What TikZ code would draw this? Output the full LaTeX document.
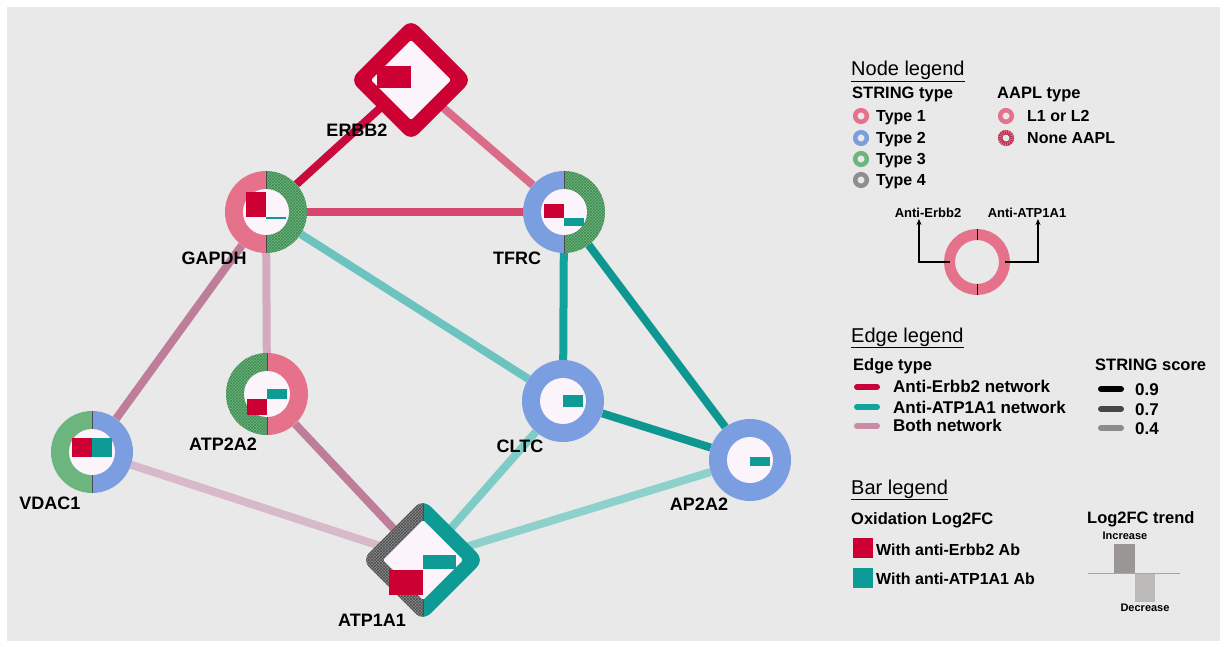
\documentclass[tikz,border=0pt]{standalone}
\usepackage{fontspec}
\setmainfont{Liberation Sans}
\usetikzlibrary{shapes.geometric,patterns,arrows.meta}
\definecolor{bgc}{HTML}{E9E9E9}
\definecolor{inc}{HTML}{FBF4FA}
\definecolor{tpink}{HTML}{E6718B}
\definecolor{tblue}{HTML}{7B9EE0}
\definecolor{tgreen}{HTML}{6DB57E}
\definecolor{tgreenD}{HTML}{3F8A52}
\definecolor{tgray}{HTML}{8E8E8E}
\definecolor{tgrayD}{HTML}{4A4A4A}
\definecolor{tpinkD}{HTML}{B03050}
\definecolor{crim}{HTML}{CC0033}
\definecolor{tealc}{HTML}{0E9A95}
\definecolor{eA}{HTML}{C80A3C}
\definecolor{eB}{HTML}{DA6C8A}
\definecolor{eC}{HTML}{D5456D}
\definecolor{eD}{HTML}{D4AABE}
\definecolor{eE}{HTML}{BE7D99}
\definecolor{eF}{HTML}{D8B9C9}
\definecolor{eG}{HTML}{6DC3BF}
\definecolor{eH}{HTML}{13A19B}
\definecolor{eI}{HTML}{0E9690}
\definecolor{eJ}{HTML}{7ECCC7}
\definecolor{eK}{HTML}{8ED1CC}
\definecolor{lgRed}{HTML}{C8003A}
\definecolor{lgTeal}{HTML}{11A39C}
\definecolor{lgMauve}{HTML}{C98BA6}
\definecolor{barDark}{HTML}{9B9696}
\definecolor{barLight}{HTML}{BDBABA}
\tikzset{
  lbl/.style={font=\fontsize{18pt}{20pt}\selectfont\bfseries, inner sep=0pt},
  hd/.style={font=\fontsize{20pt}{22pt}\selectfont, inner sep=0pt, anchor=base west},
  sub/.style={font=\fontsize{16.5pt}{18pt}\selectfont\bfseries, inner sep=0pt, anchor=base west},
  item/.style={font=\fontsize{16pt}{18pt}\selectfont\bfseries, inner sep=0pt, anchor=base west},
  eitem/.style={font=\fontsize{17pt}{19pt}\selectfont\bfseries, inner sep=0pt, anchor=base west},
  small/.style={font=\fontsize{13pt}{15pt}\selectfont\bfseries, inner sep=0pt},
  tiny/.style={font=\fontsize{11pt}{13pt}\selectfont\bfseries, inner sep=0pt},
  hub/.style={circle, minimum size=82pt, inner sep=0pt},
  dmd/.style={diamond, minimum size=114pt, inner sep=0pt},
  link/.style={line width=8pt},
  divider/.style={line width=0.8pt, black!70},
  ty1/.style={fill=tpink},
  ty2/.style={fill=tblue},
  ty3/.style={fill=tgreen},
  ty3n/.style={fill=tgreen, postaction={pattern=crosshatch, pattern color=tgreenD}},
  ty4n/.style={fill=tgray, postaction={pattern=crosshatch, pattern color=tgrayD}},
  barE/.style={fill=crim},
  barA/.style={fill=tealc},
  swatch/.style={line width=6pt, line cap=round},
}
\newcommand{\hubring}[3]{%
  \begin{scope}[shift={(#1.center)}]
    \begin{scope}\clip (-45,-45) rectangle (0,45); \fill[#2] (0,0) circle[radius=41]; \end{scope}
    \begin{scope}\clip (0,-45) rectangle (45,45); \fill[#3] (0,0) circle[radius=41]; \end{scope}
    \draw[divider] (0,-41) -- (0,41);
    \fill[inc] (0,0) circle[radius=23];
  \end{scope}}
\begin{document}
\begin{tikzpicture}[x=1pt,y=-1pt]
\useasboundingbox (0,0) rectangle (1226,647);
\fill[white] (0,0) rectangle (1226,647);
\fill[bgc] (7,7) rectangle (1220,641);

% node placeholders
\node[hub] (GAPDH) at (266,212) {};
\node[hub] (TFRC) at (564,212) {};
\node[hub] (ATP2A2) at (267,394) {};
\node[hub] (VDAC1) at (92,452) {};
\node[hub] (CLTC) at (563,401) {};
\node[hub] (AP2A2) at (750,460) {};
\node[dmd] (ERBB2) at (411,80) {};
\node[dmd] (ATP1A1) at (423,560) {};

% edges
\draw[link, eA] (ERBB2) -- (GAPDH);
\draw[link, eB] (ERBB2) -- (TFRC);
\draw[link, eC] (GAPDH) -- (TFRC);
\draw[link, eD] (GAPDH) -- (ATP2A2);
\draw[link, eE] (GAPDH) -- (VDAC1);
\draw[link, eG] (GAPDH) -- (CLTC);
\draw[link, eH] (TFRC) -- (CLTC);
\draw[link, eI] (TFRC) -- (AP2A2);
\draw[link, eI] (CLTC) -- (AP2A2);
\draw[link, eJ] (CLTC) -- (ATP1A1);
\draw[link, eK] (AP2A2) -- (ATP1A1);
\draw[link, eE] (ATP2A2) -- (ATP1A1);
\draw[link, eF] (VDAC1) -- (ATP1A1);

% circle nodes
\hubring{GAPDH}{ty1}{ty3n}
\begin{scope}[shift={(GAPDH.center)}]
  \fill[barE] (-20,-20) rectangle (0,5);
  \fill[barA] (0,5) rectangle (20,7);
\end{scope}
\hubring{TFRC}{ty2}{ty3n}
\begin{scope}[shift={(TFRC.center)}]
  \fill[barE] (-20,-8) rectangle (0,6);
  \fill[barA] (0,6) rectangle (20,14);
\end{scope}
\hubring{ATP2A2}{ty3n}{ty1}
\begin{scope}[shift={(ATP2A2.center)}]
  \fill[barE] (-20,5) rectangle (0,21);
  \fill[barA] (0,-5) rectangle (20,5);
\end{scope}
\hubring{VDAC1}{ty3}{ty2}
\begin{scope}[shift={(VDAC1.center)}]
  \fill[barE] (-20,-14) rectangle (0,5);
  \fill[barA] (0,-14) rectangle (20,5);
\end{scope}
\begin{scope}[shift={(CLTC.center)}]
  \fill[tblue] (0,0) circle[radius=41];
  \fill[inc] (0,0) circle[radius=23];
  \fill[barA] (0,-6) rectangle (20,6);
\end{scope}
\begin{scope}[shift={(AP2A2.center)}]
  \fill[tblue] (0,0) circle[radius=41];
  \fill[inc] (0,0) circle[radius=23];
  \fill[barA] (0,-3) rectangle (20,6);
\end{scope}

% diamonds
\begin{scope}[shift={(ERBB2.center)}]
  \fill[crim, rounded corners=10pt] (0,-61) -- (61,0) -- (0,61) -- (-61,0) -- cycle;
  \fill[inc, rounded corners=2pt] (0,-40) -- (40,0) -- (0,40) -- (-40,0) -- cycle;
  \fill[barE] (-34,-14) rectangle (0,8);
\end{scope}
\begin{scope}[shift={(ATP1A1.center)}]
  \begin{scope}\clip (-65,-65) rectangle (0,65);
    \fill[ty4n, rounded corners=10pt] (0,-61) -- (61,0) -- (0,61) -- (-61,0) -- cycle;
  \end{scope}
  \begin{scope}\clip (0,-65) rectangle (65,65);
    \fill[tealc, rounded corners=10pt] (0,-61) -- (61,0) -- (0,61) -- (-61,0) -- cycle;
  \end{scope}
  \draw[divider] (0,-56) -- (0,56);
  \fill[inc, rounded corners=2pt] (0,-40) -- (40,0) -- (0,40) -- (-40,0) -- cycle;
  \fill[barE] (-34,10) rectangle (0,35);
  \fill[barA] (0,-5) rectangle (33,9);
\end{scope}

% node labels
\node[lbl] (lERBB2) at (357,130) {ERBB2};
\node[lbl] (lGAPDH) at (214,258) {GAPDH};
\node[lbl] (lTFRC) at (517,258) {TFRC};
\node[lbl] (lATP2A2) at (223,444) {ATP2A2};
\node[lbl] (lVDAC1) at (50,503) {VDAC1};
\node[lbl] (lCLTC) at (520,446) {CLTC};
\node[lbl] (lAP2A2) at (699,504) {AP2A2};
\node[lbl] (lATP1A1) at (372,620) {ATP1A1};

% ---------- Node legend ----------
\node[hd] (hNode) at (851,76) {\underline{Node legend}};
\node[sub] (hString) at (852,99) {STRING type};
\node[sub] (hAapl) at (997,99) {AAPL type};
\draw[tpink, line width=4.5pt] (861,116) circle[radius=5.8];
\draw[tblue, line width=4.5pt] (861,138) circle[radius=5.8];
\draw[tgreen, line width=4.5pt] (861,159) circle[radius=5.8];
\draw[tgray, line width=4.5pt] (861,180) circle[radius=5.8];
\node[item] (t1) at (876,122) {Type 1};
\node[item] (t2) at (876,144) {Type 2};
\node[item] (t3) at (876,165) {Type 3};
\node[item] (t4) at (876,186) {Type 4};
\draw[tpink, line width=4.5pt] (1006,116) circle[radius=5.8];
\draw[tpink, line width=4.5pt, postaction={draw=tpinkD, line width=4.5pt, dash pattern=on 1pt off 1pt}] (1006,138) circle[radius=5.8];
\node[item] (aL) at (1027,122) {L1 or L2};
\node[item] (aN) at (1027,144) {None AAPL};

\node[circle, minimum size=66pt, inner sep=0pt] (legring) at (977,262) {};
\draw[tpink, line width=11pt] (legring.center) circle[radius=27.5];
\draw[black, line width=0.9pt] (977,229) -- (977,240);
\draw[black, line width=0.9pt] (977,284) -- (977,295);
\node[small] (lAE) at (928,213) {Anti-Erbb2};
\node[small] (lAA) at (1027,213) {Anti-ATP1A1};
\coordinate (tipE) at (919,219);
\coordinate (tipA) at (1038,219);
\coordinate (startE) at (950,262);
\coordinate (startA) at (1005,262);
\draw[line width=1.4pt, -{Stealth[length=6pt,width=5pt]}] (startE) -| (tipE);
\draw[line width=1.4pt, -{Stealth[length=6pt,width=5pt]}] (startA) -| (tipA);

% ---------- Edge legend ----------
\node[hd] (hEdge) at (851,342) {\underline{Edge legend}};
\node[sub] (hEtype) at (853,370) {Edge type};
\node[sub] (hScore) at (1095,370) {STRING score};
\draw[swatch, lgRed] (857,387) -- (877,387);
\draw[swatch, lgTeal] (857,407) -- (877,407);
\draw[swatch, lgMauve] (857,426) -- (877,426);
\node[eitem] (e1) at (893,392) {Anti-Erbb2 network};
\node[eitem] (e2) at (893,413) {Anti-ATP1A1 network};
\node[eitem] (e3) at (893,431) {Both network};
\draw[swatch, black] (1101,389) -- (1121,389);
\draw[swatch, black!72] (1101,409) -- (1121,409);
\draw[swatch, black!45] (1101,428) -- (1121,428);
\node[eitem] (s1) at (1135,395) {0.9};
\node[eitem] (s2) at (1135,415) {0.7};
\node[eitem] (s3) at (1135,434) {0.4};

% ---------- Bar legend ----------
\node[hd] (hBar) at (851,494) {\underline{Bar legend}};
\node[sub] (hOx) at (851,524) {Oxidation Log2FC};
\node[sub] (hTrend) at (1087,523) {Log2FC trend};
\fill[crim] (853,538) rectangle (873,558);
\fill[tealc] (853,568) rectangle (873,588);
\node[item] (b1) at (876,555) {With anti-Erbb2 Ab};
\node[item] (b2) at (876,584) {With anti-ATP1A1 Ab};
\fill[barDark] (1114,544) rectangle (1135,573);
\fill[barLight] (1135,573) rectangle (1155,602);
\draw[black!35, line width=0.6pt] (1088,573) -- (1180,573);
\node[tiny] (inc) at (1125,536) {Increase};
\node[tiny] (dec) at (1145,608) {Decrease};
\end{tikzpicture}
\end{document}
